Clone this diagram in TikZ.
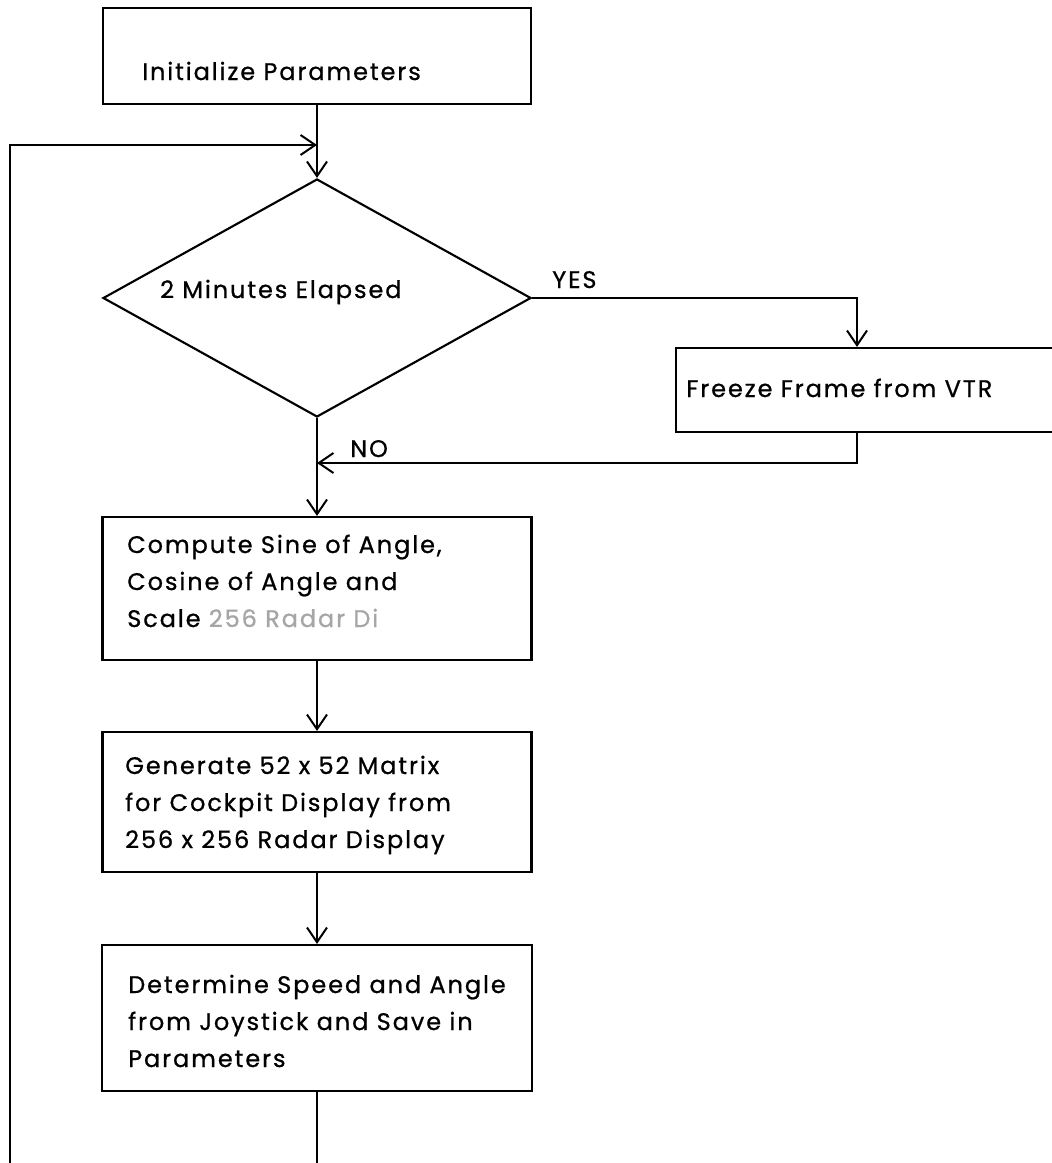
\documentclass[tikz,border=0pt]{standalone}
\usepackage{fontspec}
\setmainfont{Poppins}[LetterSpace=8, FakeBold=0.8]
\usetikzlibrary{arrows.meta,shapes.geometric}
\begin{document}
\begin{tikzpicture}[x=0.75pt,y=-0.75pt,
  box/.style={draw, line width=1.6pt, rectangle, inner sep=0pt},
  txt/.style={anchor=base west, inner sep=0pt, align=left,
    font=\fontsize{18pt}{27.75pt}\selectfont},
  conn/.style={line width=1.5pt, -{Straight Barb[length=11pt,width=15pt,line width=1.5pt]}},
  wire/.style={line width=1.5pt}]
\useasboundingbox (0,0) rectangle (1051,1163);
% boxes
\node[box, minimum width=428*0.75pt, minimum height=96*0.75pt] (init) at (317,56) {};
\node[txt] (initT) at (142,80) {Initialize Parameters};
\node[diamond, draw, line width=1.6pt, inner sep=0pt,
  minimum width=428*0.75pt, minimum height=238*0.75pt] (dec) at (317,298) {};
\node[txt] (decT) at (160,298) {2 Minutes Elapsed};
\node[box, minimum width=394*0.75pt, minimum height=84*0.75pt] (freeze) at (873,390) {};
\node[txt] (freezeT) at (686,397) {Freeze Frame from VTR};
\node[box, minimum width=429*0.75pt, minimum height=143*0.75pt] (compute) at (317,588.5) {};
\node[txt] (computeT) at (127,627) {Compute Sine of Angle,\\Cosine of Angle and\\Scale \textcolor{black!35}{256 Radar Di}};
\node[box, minimum width=429*0.75pt, minimum height=140*0.75pt] (gen) at (317,802) {};
\node[txt] (genT) at (125,848) {Generate 52 x 52 Matrix\\for Cockpit Display from\\256 x 256 Radar Display};
\node[box, minimum width=430*0.75pt, minimum height=146*0.75pt] (det) at (317,1018) {};
\node[txt] (detT) at (128,1067) {Determine Speed and Angle\\from Joystick and Save in\\Parameters};
% labels
\node[txt] (yes) at (552,288) {YES};
\node[txt] (no) at (350,457) {NO};
% coordinates
\coordinate (loopTop) at (317,145);
\coordinate (loopTL) at (10,145);
\coordinate (loopBL) at (10,1164);
\coordinate (loopBR) at (317,1164);
\coordinate (noJoin) at (317,463);
% connectors
\draw[conn] (init.south) -- (dec.north);
\draw[conn] (dec.east) -| ([xshift=-12pt]freeze.north);
\draw[conn] ([xshift=-12pt]freeze.south) |- (noJoin);
\draw[conn] (dec.south) -- (compute.north);
\draw[conn] (compute.south) -- (gen.north);
\draw[conn] (gen.south) -- (det.north);
\draw[conn] (det.south) -- (loopBR) -- (loopBL) -- (loopTL) -- (loopTop);
\end{tikzpicture}
\end{document}
